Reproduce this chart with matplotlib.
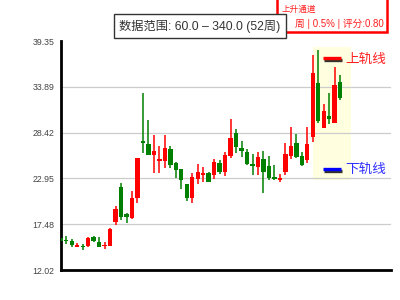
import matplotlib
matplotlib.use("Agg")
import matplotlib.pyplot as plt
import matplotlib.patheffects as pe
from matplotlib.patches import Rectangle
import numpy as np

plt.rcParams['font.family'] = ['Noto Sans CJK SC', 'DejaVu Sans']

# weekly candles (52 weeks)
opens = [15.84, 15.60, 15.52, 14.80, 14.92, 14.88, 15.92, 15.36, 14.88, 14.88,
         17.75, 21.96, 18.70, 18.18, 20.58, 27.42, 27.06, 25.78, 25.03, 25.07,
         26.42, 24.79, 24.04, 22.28, 20.61, 22.84, 23.33, 23.63, 23.39, 24.75,
         23.75, 25.66, 28.33, 26.62, 26.10, 24.67, 24.35, 25.27, 24.43, 23.12,
         22.80, 23.75, 25.66, 27.18, 25.62, 25.15, 27.93, 34.34, 29.00, 30.40,
         29.60, 34.46]
closes = [15.52, 15.45, 14.97, 14.97, 14.77, 15.84, 15.52, 14.80, 15.04, 16.88,
          19.26, 18.38, 18.30, 20.58, 25.40, 27.14, 25.78, 26.22, 25.30, 26.58,
          24.55, 23.99, 22.76, 20.65, 23.12, 23.68, 23.57, 22.56, 24.94, 23.75,
          25.74, 27.77, 26.74, 26.26, 24.67, 24.43, 25.50, 23.75, 23.04, 22.92,
          23.00, 25.86, 26.82, 25.54, 24.55, 27.06, 35.57, 29.84, 31.03, 30.08,
          34.10, 32.58]
highs = [15.96, 16.08, 15.68, 15.20, 15.12, 16.00, 16.08, 15.92, 15.36, 17.00,
         19.66, 22.37, 18.86, 21.45, 25.40, 33.18, 29.96, 28.13, 26.78, 28.13,
         26.78, 24.90, 24.04, 22.28, 23.56, 24.63, 24.30, 23.75, 25.27, 25.15,
         26.07, 30.04, 28.85, 27.42, 26.46, 25.90, 26.14, 26.22, 25.62, 24.55,
         23.48, 27.18, 29.05, 28.25, 26.14, 29.05, 37.68, 38.27, 31.83, 33.18,
         36.28, 35.29]
lows = [14.92, 15.12, 14.80, 14.73, 14.40, 14.73, 15.36, 14.73, 14.56, 14.88,
        17.35, 17.99, 17.60, 18.07, 20.05, 25.95, 25.78, 23.63, 23.63, 24.23,
        24.23, 23.05, 21.72, 20.25, 19.98, 22.32, 22.56, 22.56, 22.88, 23.48,
        23.27, 25.35, 25.95, 25.47, 24.55, 23.39, 23.39, 21.24, 22.76, 22.76,
        22.56, 23.39, 25.27, 25.35, 24.43, 24.75, 27.33, 29.53, 29.00, 29.44,
        29.60, 32.31]

y_ticks = [12.02, 17.48, 22.95, 28.42, 33.89, 39.35]
channel_x = (46.1, 53.0)
channel_y = (22.76, 38.67)

title_text = "数据范围: 60.0 – 340.0 (52周)"
info_title = "上升通道"
info_line = "周 | 0.5% | 评分:0.80"

fig = plt.figure(figsize=(4, 3), dpi=100)
ax = fig.add_axes([0.152, 0.1, 0.825, 0.763])

x = np.arange(len(opens))
o = np.array(opens)
c = np.array(closes)
colors = np.where(c >= o, '#ff0000', '#008000')

# highlighted channel area
ax.add_patch(Rectangle((channel_x[0], channel_y[0]), channel_x[1] - channel_x[0],
                       channel_y[1] - channel_y[0], facecolor='#ffffe0', edgecolor='none', zorder=0))

ax.vlines(x, lows, highs, colors=colors, linewidth=1.1, zorder=2)
body_h = np.maximum(np.abs(c - o), 0.15)
ax.bar(x, body_h, bottom=np.minimum(o, c), width=0.8, color=colors, zorder=3)

ax.set_xlim(0, 60.25)
ax.set_ylim(y_ticks[0], y_ticks[-1])
ax.set_yticks(y_ticks)
ax.set_yticklabels(["%.2f" % v for v in y_ticks], family='Liberation Sans')
ax.set_xticks([])
ax.tick_params(axis='y', length=0, labelsize=6.3, colors='#444444', pad=4.8)
ax.yaxis.grid(True, color='#cccccc', linewidth=0.9)
ax.set_axisbelow(True)
ax.get_ygridlines()[-1].set_visible(False)
for s in ['top', 'right']:
    ax.spines[s].set_visible(False)
for s in ['left', 'bottom']:
    ax.spines[s].set_linewidth(2)
    ax.spines[s].set_color('black')

# rail markers
shadow = [pe.SimpleLineShadow(offset=(0.6, -0.9), alpha=0.8), pe.Normal()]
ax.plot([0.794, 0.85], [0.924, 0.924], transform=ax.transAxes, color='#ff0000',
        linewidth=2.4, solid_capstyle='butt', path_effects=shadow, zorder=5)
ax.text(0.862, 0.924, "上轨线", transform=ax.transAxes, color='#ff2020',
        fontsize=9.8, va='center', ha='left')
ax.plot([0.794, 0.85], [0.44, 0.44], transform=ax.transAxes, color='#0000ff',
        linewidth=2.4, solid_capstyle='butt', path_effects=shadow, zorder=5)
ax.text(0.862, 0.44, "下轨线", transform=ax.transAxes, color='#3030ff',
        fontsize=9.8, va='center', ha='left')

# info box (top right, partly off the figure)
fig.patches.append(Rectangle((0.693, 0.894), 0.275, 0.13, transform=fig.transFigure,
                             facecolor='white', edgecolor='#ff0000', linewidth=1.8, zorder=5))
fig.text(0.704, 0.969, info_title, color='#ff2020', fontsize=6.2, ha='left', va='center', zorder=6)
fig.text(0.7375, 0.919, info_line, color='#ff2020', fontsize=7, ha='left', va='center',
         family=['Liberation Sans', 'Noto Sans CJK SC'], zorder=6)

fig.text(0.5, 0.913, title_text, color='#333333', fontsize=8.8, ha='center', va='center',
         family=['Liberation Sans', 'Noto Sans CJK SC'],
         bbox=dict(boxstyle='square,pad=0.42', facecolor='white', edgecolor='#333333', linewidth=1),
         zorder=10)

fig.savefig("out.png", dpi=100)
